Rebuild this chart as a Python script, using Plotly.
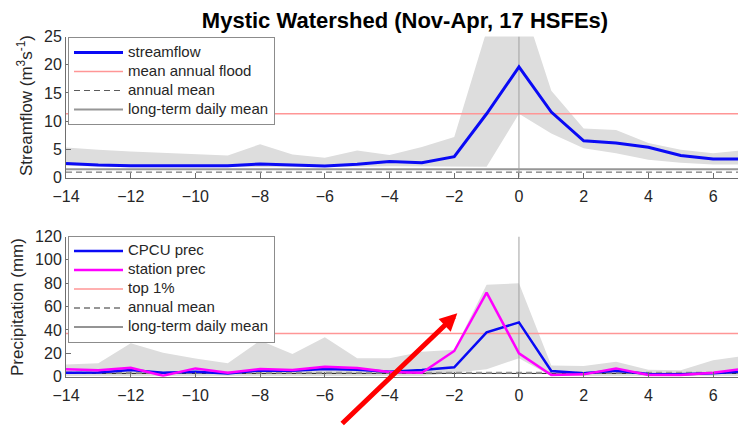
import plotly.graph_objects as go

# ---------------- data ----------------
days = [-14, -13, -12, -11, -10, -9, -8, -7, -6, -5, -4, -3, -2, -1, 0, 1, 2, 3, 4, 5, 6, 7]

streamflow = [2.5, 2.2, 2.1, 2.05, 2.1, 2.1, 2.4, 2.2, 2.05, 2.35, 2.85, 2.6, 3.7, 11.3, 19.6, 11.6, 6.5, 6.1, 5.35, 3.9, 3.3, 3.3]
flow_upper = [5.3, 4.9, 4.6, 4.3, 4.1, 3.9, 5.9, 4.1, 3.5, 4.8, 4.0, 5.4, 7.2, 26.0, 33.0, 15.4, 8.7, 8.4, 6.1, 4.9, 4.3, 4.9]
flow_lower = [2.1, 1.9, 1.8, 1.8, 1.8, 1.8, 1.9, 1.9, 1.8, 1.9, 2.0, 2.0, 2.0, 1.9, 11.3, 7.8, 5.2, 4.3, 3.15, 2.6, 2.3, 2.3]
mean_annual_flood = 11.3
flow_annual_mean = 0.95
flow_longterm_mean = 1.45

cpcu_prec = [3.4, 3.7, 5.7, 3.4, 4.3, 2.8, 5.4, 5.0, 6.6, 6.0, 4.3, 5.7, 8.0, 38.0, 46.5, 4.9, 2.9, 5.1, 2.3, 2.0, 2.9, 4.5]
station_prec = [6.3, 5.5, 7.7, 0.9, 7.1, 3.4, 6.5, 5.7, 8.6, 7.5, 4.0, 3.4, 22.0, 72.0, 20.0, 1.5, 2.0, 7.1, 1.4, 1.4, 3.4, 7.0]
prec_upper = [10.5, 11.5, 28.6, 20.5, 15.5, 11.5, 31.0, 19.5, 33.8, 15.8, 15.8, 21.4, 23.0, 78.6, 80.0, 9.5, 9.2, 12.9, 6.0, 5.5, 14.0, 18.0]
prec_lower = [0.5, 0.5, 0.5, 0.5, 0.5, 0.5, 0.5, 0.5, 0.5, 0.5, 0.5, 0.5, 3.4, 6.3, 15.8, 0.5, 0.5, 0.5, 0.5, 0.5, 0.5, 0.5]
top1_prec = 36.9
prec_annual_mean = 3.3
prec_longterm_mean = 2.8

flow_ticks = [0, 5, 10, 15, 20, 25]
prec_ticks = [0, 20, 40, 60, 80, 100, 120]
day_ticks = [-14, -12, -10, -8, -6, -4, -2, 0, 2, 4, 6]

title_text = "Mystic Watershed (Nov-Apr, 17 HSFEs)"
flow_label = "Streamflow (m<sup>3</sup>s<sup>-1</sup>)"
prec_label = "Precipitation (mm)"

# ---------------- styling ----------------
FONT = "Liberation Sans, Arial, Helvetica, sans-serif"
W, H = 738, 428
ML = 66
PW = W - ML
BAND = "rgb(221,221,221)"
PINK = "rgb(255,150,150)"
BLUE = "rgb(10,10,245)"
MAG = "rgb(255,0,255)"
AXC = "#6e6e6e"
TXT = "#262626"


def lg(name):
    return '<span style="font-size:15px">' + name + '</span>'


fig = go.Figure()
xs = [days[0], days[-1]]

# ---------- top panel ----------
fig.add_trace(go.Scatter(x=days + days[::-1], y=flow_lower + flow_upper[::-1], fill="toself",
                         fillcolor=BAND, line=dict(width=0), mode="lines", showlegend=False,
                         hoverinfo="skip", xaxis="x", yaxis="y"))
fig.add_trace(go.Scatter(x=xs, y=[flow_longterm_mean] * 2, mode="lines",
                         line=dict(color="rgb(150,150,150)", width=2),
                         name=lg("long-term daily mean"), legend="legend", legendrank=4,
                         xaxis="x", yaxis="y"))
fig.add_trace(go.Scatter(x=xs, y=[flow_annual_mean] * 2, mode="lines",
                         line=dict(color="rgb(90,90,90)", width=1, dash="6px,4px"),
                         name=lg("annual mean"), legend="legend", legendrank=3,
                         xaxis="x", yaxis="y"))
fig.add_trace(go.Scatter(x=xs, y=[mean_annual_flood] * 2, mode="lines",
                         line=dict(color=PINK, width=1.5),
                         name=lg("mean annual flood"), legend="legend", legendrank=2,
                         xaxis="x", yaxis="y"))
fig.add_trace(go.Scatter(x=[0, 0], y=[flow_ticks[0], flow_ticks[-1]], mode="lines",
                         line=dict(color="rgb(160,160,160)", width=1), showlegend=False,
                         xaxis="x", yaxis="y"))
fig.add_trace(go.Scatter(x=days, y=streamflow, mode="lines", line=dict(color=BLUE, width=3),
                         name=lg("streamflow"), legend="legend", legendrank=1,
                         xaxis="x", yaxis="y"))

# ---------- bottom panel ----------
fig.add_trace(go.Scatter(x=days + days[::-1], y=prec_lower + prec_upper[::-1], fill="toself",
                         fillcolor=BAND, line=dict(width=0), mode="lines", showlegend=False,
                         hoverinfo="skip", xaxis="x2", yaxis="y2"))
fig.add_trace(go.Scatter(x=xs, y=[prec_longterm_mean] * 2, mode="lines",
                         line=dict(color="rgb(40,40,40)", width=1),
                         name=lg("long-term daily mean"), legend="legend2", legendrank=5,
                         xaxis="x2", yaxis="y2"))
fig.add_trace(go.Scatter(x=xs, y=[prec_annual_mean] * 2, mode="lines",
                         line=dict(color="rgb(150,150,150)", width=2, dash="6px,4px"),
                         name=lg("annual mean"), legend="legend2", legendrank=4,
                         xaxis="x2", yaxis="y2"))
fig.add_trace(go.Scatter(x=xs, y=[top1_prec] * 2, mode="lines",
                         line=dict(color=PINK, width=1.5),
                         name=lg("top 1%"), legend="legend2", legendrank=3,
                         xaxis="x2", yaxis="y2"))
fig.add_trace(go.Scatter(x=[0, 0], y=[prec_ticks[0], prec_ticks[-1]], mode="lines",
                         line=dict(color="rgb(160,160,160)", width=1), showlegend=False,
                         xaxis="x2", yaxis="y2"))
fig.add_trace(go.Scatter(x=days, y=cpcu_prec, mode="lines", line=dict(color=BLUE, width=2.5),
                         name=lg("CPCU prec"), legend="legend2", legendrank=1,
                         xaxis="x2", yaxis="y2"))
fig.add_trace(go.Scatter(x=days, y=station_prec, mode="lines", line=dict(color=MAG, width=2.5),
                         name=lg("station prec"), legend="legend2", legendrank=2,
                         xaxis="x2", yaxis="y2"))

# ---------- layout ----------
def py(px):
    return (H - px) / H


xr = [-14, 6.77]
axis_common = dict(showgrid=False, zeroline=False, showline=True, linecolor=AXC, linewidth=1,
                   ticks="inside", ticklen=5, tickcolor=AXC, tickwidth=1, automargin=False,
                   tickfont=dict(size=16, color=TXT, family=FONT))

legend_common = dict(bgcolor="white", bordercolor="rgb(140,140,140)", borderwidth=1,
                     font=dict(size=11, color=TXT, family=FONT), xanchor="left", yanchor="top",
                     itemwidth=49, tracegroupgap=0, traceorder="normal")

fig.update_layout(
    width=W, height=H,
    margin=dict(l=ML, r=0, t=0, b=0, autoexpand=False),
    paper_bgcolor="white", plot_bgcolor="white",
    font=dict(family=FONT, color=TXT),
    title=dict(text="<b>" + title_text + "</b>", x=405 / W, xref="container", xanchor="center",
               y=1 - 20 / H, yref="container", yanchor="middle",
               font=dict(size=22, color="black", family=FONT)),
    xaxis=dict(domain=[0, 1], range=xr, tickvals=day_ticks, anchor="y", ticklabelstandoff=4,
               **axis_common),
    yaxis=dict(domain=[py(177.5), py(36.5)], range=[0, 25], tickvals=flow_ticks, anchor="x",
               **axis_common),
    xaxis2=dict(domain=[0, 1], range=xr, tickvals=day_ticks, anchor="y2", ticklabelstandoff=4,
                **axis_common),
    yaxis2=dict(domain=[py(376.7), py(236.5)], range=[0, 120], tickvals=prec_ticks, anchor="x2",
                **axis_common),
    legend=dict(x=2 / PW, y=py(37), **legend_common),
    legend2=dict(x=2 / PW, y=py(235.5), **legend_common),
    showlegend=True,
    annotations=[
        dict(text=flow_label, textangle=-90, xref="paper", yref="paper",
             x=(25 - ML) / PW, y=py(106), xanchor="center", yanchor="middle", showarrow=False,
             font=dict(size=17, color=TXT, family=FONT)),
        dict(text=prec_label, textangle=-90, xref="paper", yref="paper",
             x=(17 - ML) / PW, y=py(307), xanchor="center", yanchor="middle", showarrow=False,
             font=dict(size=17, color=TXT, family=FONT)),
        dict(text="", xref="paper", yref="paper", x=(457.3 - ML) / PW, y=py(313.3),
             showarrow=True, axref="pixel", ayref="pixel", ax=340.7 - 457.3, ay=425 - 313.3,
             arrowcolor="rgb(255,0,0)", arrowwidth=5, arrowhead=2, arrowsize=0.7),
    ],
)

fig.write_html("out.html")
